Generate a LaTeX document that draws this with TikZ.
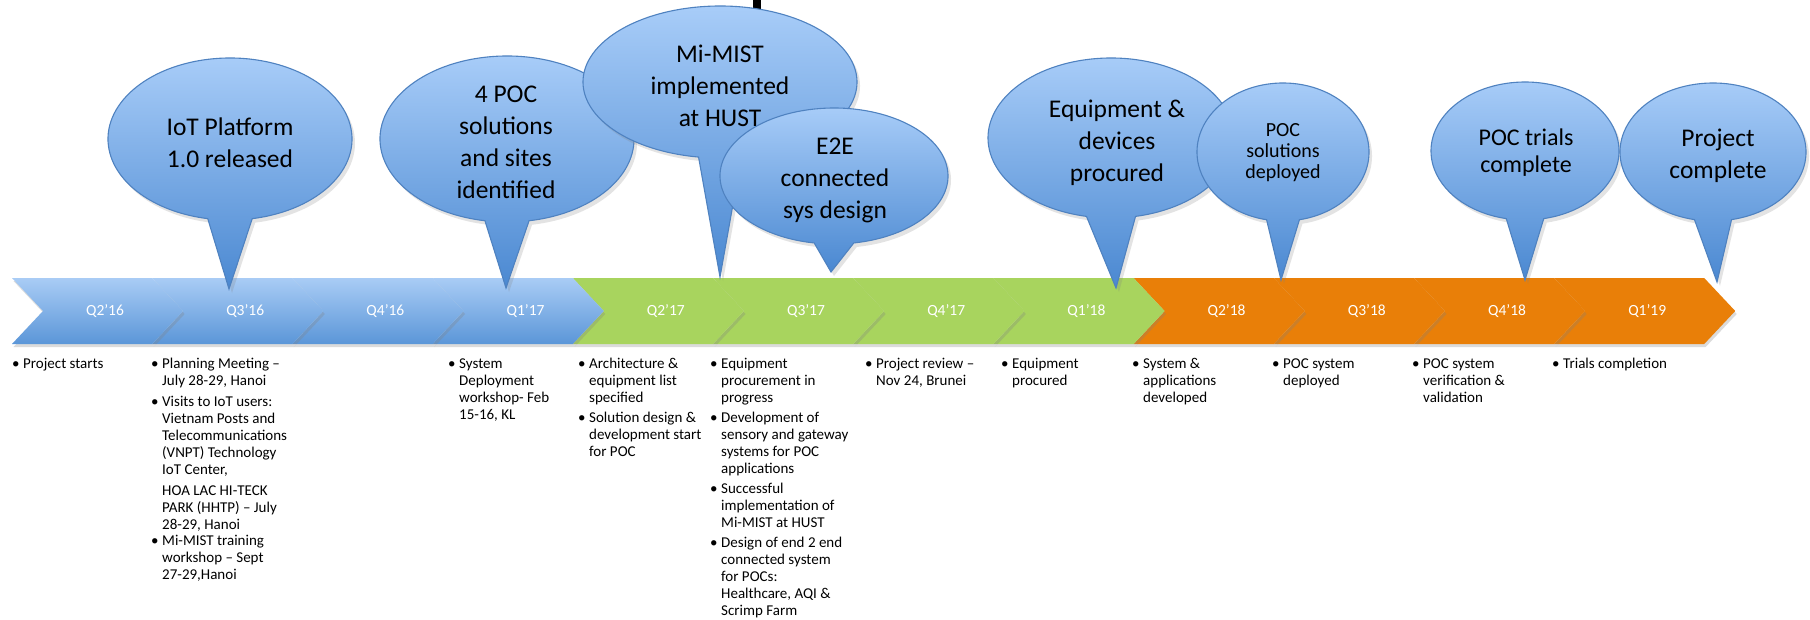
\documentclass[tikz,border=0pt]{standalone}
\usepackage{fontspec}
\setmainfont{Carlito}
\usetikzlibrary{shadows}
\definecolor{chevTop}{HTML}{A9CCF5}
\definecolor{chevBot}{HTML}{5B96D8}
\definecolor{chevGreen}{HTML}{A8D45E}
\definecolor{chevOrange}{HTML}{E97F08}
\definecolor{blnTop}{HTML}{AACEF9}
\definecolor{blnBot}{HTML}{4A88D1}
\definecolor{blnEdge}{HTML}{4F82C0}
\newcommand\bu{\makebox[11bp][l]{\textbullet}}
\newcommand\tlballoon[7]{%
  \path[balloon] (#1,-#2) ++(-90+#5:#3bp and #4bp)
    arc[start angle=-90+#5, end angle=270-#5, x radius=#3bp, y radius=#4bp]
    -- (#6,-#7) -- cycle;}
\tikzset{
  chev/.style={drop shadow={opacity=0.28, shadow xshift=1.5bp, shadow yshift=-3bp}},
  chevblue/.style={chev, top color=chevTop, bottom color=chevBot},
  chevgreen/.style={chev, fill=chevGreen},
  chevorange/.style={chev, fill=chevOrange},
  qlabel/.style={text=white, font=\fontsize{15.5bp}{18bp}\selectfont, inner sep=0},
  balloon/.style={draw=blnEdge, line width=1.1bp, top color=blnTop, bottom color=blnBot,
    drop shadow={opacity=0.22, shadow xshift=3bp, shadow yshift=-4bp}},
  btext/.style={align=center, inner sep=0, font=\fontsize{25.5bp}{32bp}\selectfont},
  blist/.style={anchor=north west, inner sep=0, font=\fontsize{15bp}{17bp}\selectfont}
}
\begin{document}
\begin{tikzpicture}[x=1bp,y=1bp]
\useasboundingbox (0,0) rectangle (1810,-620);
\fill[white] (0,0) rectangle (1810,-620);

% chevron bar (drawn right to left so each tip lies over the next)
\foreach \i/\lab/\sty in {11/Q1’19/chevorange,10/Q4’18/chevorange,9/Q3’18/chevorange,8/Q2’18/chevorange,
  7/Q1’18/chevgreen,6/Q4’17/chevgreen,5/Q3’17/chevgreen,4/Q2’17/chevgreen,
  3/Q1’17/chevblue,2/Q4’16/chevblue,1/Q3’16/chevblue,0/Q2’16/chevblue}{
  \pgfmathsetmacro\a{12+140.2*\i}
  \pgfmathsetmacro\w{\i==11 ? 150 : 140.2}
  \path[\sty] (\a,-278) -- ++(\w,0) -- ++(31,-33) -- ++(-31,-33) -- ++(-\w,0) -- ++(31,33) -- cycle;
  \node[qlabel] (q\i) at (\a+93,-311) {\lab};
}

% black stub at top
\fill[black] (753,0) rectangle (761,-20);

% balloons
\tlballoon{230}{139}{122}{81}{10.5}{229}{289}
\node[btext] (b1) at (230,-143) {IoT Platform\\1.0 released};
\tlballoon{507}{139}{127}{83}{10}{506}{288}
\node[btext] (b2) at (506,-142) {4 POC\\solutions\\and sites\\identified};
\tlballoon{720}{82}{137}{76}{9}{720}{277}
\node[btext] (b3) at (720,-86) {Mi-MIST\\implemented\\at HUST};
\tlballoon{834}{176}{114}{68}{10}{831}{272}
\node[btext] (b4) at (835,-180) {E2E\\connected\\sys design};
\tlballoon{1111}{138}{123}{80}{11.5}{1116}{288}
\node[btext] (b5) at (1117,-143) {Equipment \&\\devices\\procured};
\tlballoon{1283}{152}{86}{69}{11}{1281}{280}
\node[btext, font=\fontsize{20bp}{21bp}\selectfont] (b6) at (1283,-153) {POC\\solutions\\deployed};
\tlballoon{1525}{151}{94}{69}{11.5}{1525}{280}
\node[btext, font=\fontsize{24bp}{27bp}\selectfont] (b7) at (1526,-153) {POC trials\\complete};
\tlballoon{1713}{152}{93}{69}{11.5}{1717}{282}
\node[btext] (b8) at (1718,-156) {Project\\complete};

% bullet lists
\node[blist] (l0) at (12,-356) {\begin{tabular}{@{}l@{}l@{}}\bu & Project starts\end{tabular}};
\node[blist] (l1) at (151,-356) {\begin{tabular}{@{}l@{}l@{}}
\bu & Planning Meeting –\\ & July 28-29, Hanoi\\[4bp]
\bu & Visits to IoT users:\\ & Vietnam Posts and\\ & Telecommunications\\ & (VNPT) Technology\\ & IoT Center,\\[4bp]
 & HOA LAC HI-TECK\\ & PARK (HHTP) – July\\ & 28-29, Hanoi\\[-1bp]
\bu & Mi-MIST training\\ & workshop – Sept\\ & 27-29,Hanoi
\end{tabular}};
\node[blist] (l3) at (448,-356) {\begin{tabular}{@{}l@{}l@{}}
\bu & System\\ & Deployment\\ & workshop- Feb\\ & 15-16, KL
\end{tabular}};
\node[blist] (l4) at (578,-356) {\begin{tabular}{@{}l@{}l@{}}
\bu & Architecture \&\\ & equipment list\\ & specified\\[3.5bp]
\bu & Solution design \&\\ & development start\\ & for POC
\end{tabular}};
\node[blist] (l5) at (710,-356) {\begin{tabular}{@{}l@{}l@{}}
\bu & Equipment\\ & procurement in\\ & progress\\[3bp]
\bu & Development of\\ & sensory and gateway\\ & systems for POC\\ & applications\\[3bp]
\bu & Successful\\ & implementation of\\ & Mi-MIST at HUST\\[3bp]
\bu & Design of end 2 end\\ & connected system\\ & for POCs:\\ & Healthcare, AQI \&\\ & Scrimp Farm
\end{tabular}};
\node[blist] (l6) at (865,-356) {\begin{tabular}{@{}l@{}l@{}}
\bu & Project review –\\ & Nov 24, Brunei
\end{tabular}};
\node[blist] (l7) at (1001,-356) {\begin{tabular}{@{}l@{}l@{}}
\bu & Equipment\\ & procured
\end{tabular}};
\node[blist] (l8) at (1132,-356) {\begin{tabular}{@{}l@{}l@{}}
\bu & System \&\\ & applications\\ & developed
\end{tabular}};
\node[blist] (l9) at (1272,-356) {\begin{tabular}{@{}l@{}l@{}}
\bu & POC system\\ & deployed
\end{tabular}};
\node[blist] (l10) at (1412,-356) {\begin{tabular}{@{}l@{}l@{}}
\bu & POC system\\ & verification \&\\ & validation
\end{tabular}};
\node[blist] (l11) at (1552,-356) {\begin{tabular}{@{}l@{}l@{}}
\bu & Trials completion
\end{tabular}};
\end{tikzpicture}
\end{document}
